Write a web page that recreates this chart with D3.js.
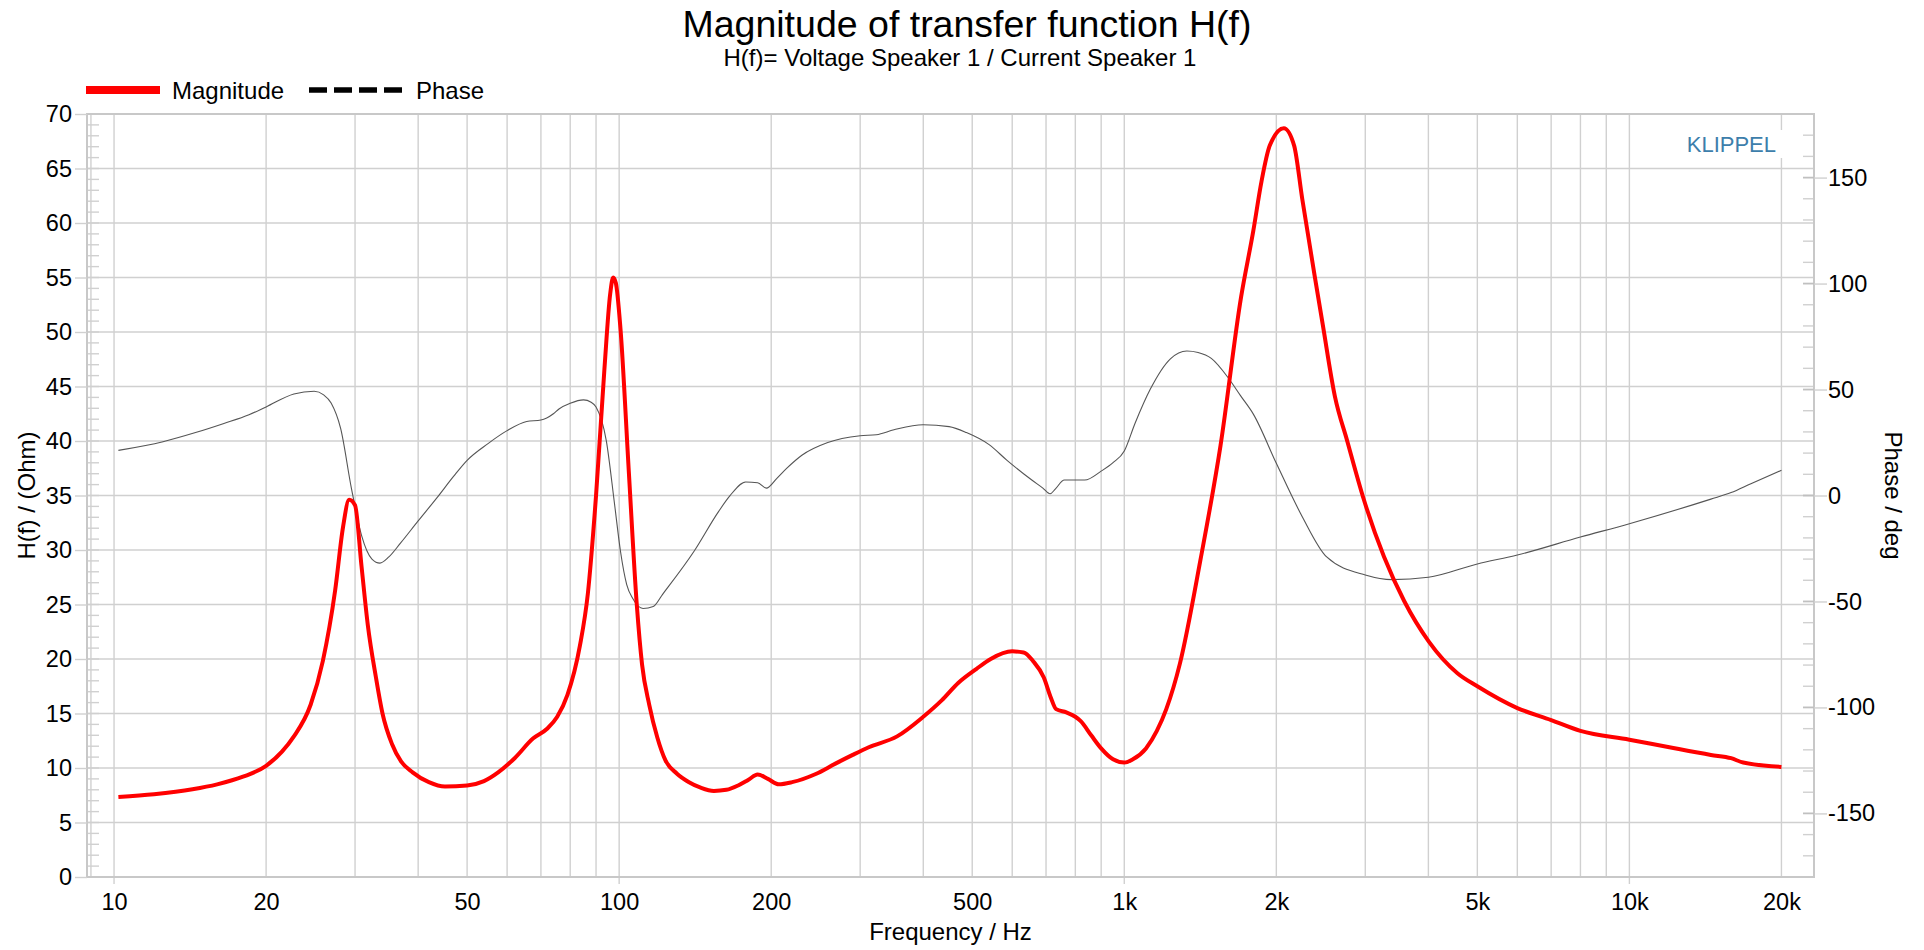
<!DOCTYPE html>
<html>
<head>
<meta charset="utf-8">
<script src="https://cdn.jsdelivr.net/npm/d3@7"></script>
<style>
  body { margin: 0; background: #fff; }
  svg { display: block; font-family: "Liberation Sans", Arial, sans-serif; }
</style>
</head>
<body>
<div id="chart"></div>
<script>
// magnitude |H(f)| in Ohm
var magFreq = [10.2, 12, 14.3, 16, 18, 20, 21.5, 22.7, 24.5, 25.9, 27.4, 28.4, 29.2, 30, 30.9, 31.8, 33, 34, 35.5, 37, 39, 42, 45.2, 50,
    54, 57.6, 62.1, 67.5, 72, 75.4, 79, 83.6, 86.7, 90, 93.5, 96, 97.3, 98.5, 100.6, 104.5, 108.4, 111, 114.7, 119, 123.5, 130,
    137.5, 145, 154, 163, 172, 180, 188, 197, 207, 220, 245, 268, 290, 312, 355, 400, 435, 469, 510, 544, 600, 632, 660, 693,
    715, 733, 768, 800, 820, 860, 900, 950, 1000, 1040, 1104, 1160, 1211, 1289, 1414, 1551, 1703, 1801, 1869, 1941, 2070, 2169,
    2251, 2381, 2471, 2612, 2763, 2977, 3266, 3584, 4008, 4566, 5000, 6000, 7000, 8000, 10000, 12000, 14500, 15900, 16800, 20000];
var magOhm = [7.35, 7.6, 8.05, 8.5, 9.2, 10.2, 11.5, 12.9, 15.8, 19.8, 26.3, 32.1, 34.6, 34.1, 28.5, 23.1, 18.3, 15, 12.2, 10.6, 9.6, 8.7, 8.3, 8.4,
    8.8, 9.6, 10.9, 12.7, 13.6, 14.7, 16.7, 21.2, 26, 35, 46.6, 53.5, 55, 54.5, 50.3, 37.2, 24.9, 19.5, 15.8, 12.8, 10.7, 9.5,
    8.7, 8.2, 7.9, 8, 8.4, 8.9, 9.4, 9, 8.5, 8.7, 9.45, 10.4, 11.2, 11.9, 12.9, 14.7, 16.2, 17.8, 19.1, 20, 20.7, 20.6, 19.8, 18.3,
    16.5, 15.4, 15.1, 14.7, 14.3, 13, 11.8, 10.8, 10.5, 10.8, 11.8, 13.4, 15.4, 19.6, 29, 39.6, 53.2, 59.3, 63.8, 67.1, 68.7, 67.1,
    62.2, 55.2, 50.7, 44.1, 40, 34.7, 29.4, 25.3, 21.6, 18.7, 17.5, 15.5, 14.4, 13.4, 12.6, 11.9, 11.2, 10.9, 10.5, 10.1];

// phase in degrees
var phaseFreq = [10.2, 12.5, 14.5, 16.5, 18.5, 20, 22.7, 24.9, 26, 26.9, 28.1, 29.5, 30.9, 32.4, 33.6, 35, 36.9, 40, 43.6, 47, 50, 55, 60,
    65.6, 70, 74.1, 76, 80, 85, 88, 90, 94.3, 97.9, 100.6, 103.5, 106.4, 111.5, 116.8, 122, 140.7, 157.3, 165.6, 178, 188,
    195.6, 205, 214.8, 230, 258.8, 300, 323, 350, 400, 450, 487, 540, 586, 656, 690, 713, 730, 761, 835, 900, 950, 1000, 1050, 1125,
    1234, 1330, 1400, 1487, 1611, 1700, 1801, 2000, 2251, 2516, 3000, 3388, 4000, 5000, 6000, 8000, 10000, 14500, 15900, 17400, 20000];
var phaseDeg = [21.3, 25.4, 29.7, 34, 38.1, 41.8, 47.9, 49.2, 47.5, 43.6, 31.5, 3.5, -18.8, -30, -31.9, -29, -22.5, -12, -1, 9, 16.6, 24.5, 30.6,
    34.9, 35.6, 38.6, 40.8, 43.5, 45.1, 44, 41.8, 25.9, -3.9, -26.3, -42, -48.6, -53.3, -52.4, -46.5, -26.3, -7.6, -0.2, 6.4, 6,
    3.5, 8, 12.9, 19, 25, 28.2, 28.7, 31, 33.4, 32.5, 29.7, 24, 16.6, 7.3, 3.5, 0.8, 3, 7.3, 7.3, 11.5, 15.5, 21, 34, 50,
    64.5, 68.2, 67.5, 64.7, 55.1, 47, 38.4, 15.2, -10, -29, -37.5, -39.7, -38.6, -32.3, -28.1, -19.6, -13.3, -1.7, 1.4, 5.6, 11.9];

// axis ticks
var freqTicks = [10, 20, 50, 100, 200, 500, 1000, 2000, 5000, 10000, 20000];
var freqTickLabels = ["10", "20", "50", "100", "200", "500", "1k", "2k", "5k", "10k", "20k"];
var ohmTicks = [0, 5, 10, 15, 20, 25, 30, 35, 40, 45, 50, 55, 60, 65, 70];
var phaseTicks = [-150, -100, -50, 0, 50, 100, 150];

var margin = { top: 114, right: 110, bottom: 73, left: 87 },
    width = 1924 - margin.left - margin.right,
    height = 950 - margin.top - margin.bottom;

var gridColor = "#d0d0d0";

// scales
var x = d3.scaleLog().domain([8.84, 23200]).range([0, width]);
var y = d3.scaleLinear().domain([0, 70]).range([height, 0]);
var yPhase = d3.scaleLinear().domain([-180, 180]).range([height, 0]);

var svg = d3.select("#chart").append("svg")
    .attr("width", 1924)
    .attr("height", 950);

svg.append("rect").attr("width", 1924).attr("height", 950).attr("fill", "#fff");

var chart = svg.append("g")
    .attr("transform", "translate(" + margin.left + "," + margin.top + ")");

// vertical grid (every 1..9 per decade)
chart.append("g").selectAll("line")
    .data(x.ticks())
    .enter().append("line")
    .attr("x1", function (d) { return x(d); })
    .attr("x2", function (d) { return x(d); })
    .attr("y1", 0)
    .attr("y2", height)
    .attr("stroke", gridColor)
    .attr("stroke-width", 1.4);

// horizontal grid
chart.append("g").selectAll("line")
    .data(ohmTicks)
    .enter().append("line")
    .attr("x1", 0)
    .attr("x2", width)
    .attr("y1", function (d) { return y(d); })
    .attr("y2", function (d) { return y(d); })
    .attr("stroke", gridColor)
    .attr("stroke-width", 1.4);

// minor ticks, left (1 Ohm) and right (10 deg)
chart.append("g").selectAll("line")
    .data(d3.range(0, 71, 1))
    .enter().append("line")
    .attr("x1", 0).attr("x2", 12)
    .attr("y1", function (d) { return y(d); })
    .attr("y2", function (d) { return y(d); })
    .attr("stroke", gridColor)
    .attr("stroke-width", 1.4);

chart.append("g").selectAll("line")
    .data(d3.range(-180, 181, 10))
    .enter().append("line")
    .attr("x1", width - 11).attr("x2", width)
    .attr("y1", function (d) { return yPhase(d); })
    .attr("y2", function (d) { return yPhase(d); })
    .attr("stroke", gridColor)
    .attr("stroke-width", 1.4);

// decade ticks below the x axis
chart.append("g").selectAll("line")
    .data([10, 100, 1000, 10000])
    .enter().append("line")
    .attr("x1", function (d) { return x(d); })
    .attr("x2", function (d) { return x(d); })
    .attr("y1", height)
    .attr("y2", height + 7)
    .attr("stroke", gridColor)
    .attr("stroke-width", 1.4);

// frame
chart.append("rect")
    .attr("width", width)
    .attr("height", height)
    .attr("fill", "none")
    .attr("stroke", "#c8c8c8")
    .attr("stroke-width", 2);

// KLIPPEL mark on a white patch
chart.append("rect")
    .attr("x", 1593).attr("y", 16)
    .attr("width", 104).attr("height", 28)
    .attr("fill", "#fff");
chart.append("text")
    .attr("x", 1689).attr("y", 38)
    .attr("text-anchor", "end")
    .style("font-size", "22px")
    .style("fill", "#3d7eab")
    .text("KLIPPEL");

// axes
function styleAxis(sel, size) {
    sel.select(".domain").remove();
    sel.selectAll("line").attr("stroke", gridColor).attr("stroke-width", 1.4);
    sel.selectAll("text")
        .style("font-size", size)
        .style("font-family", '"Liberation Sans", Arial, sans-serif')
        .style("fill", "#000");
}

chart.append("g")
    .attr("transform", "translate(0," + height + ")")
    .call(d3.axisBottom(x)
        .tickValues(freqTicks)
        .tickFormat(function (d, i) { return freqTickLabels[i]; })
        .tickSize(0)
        .tickPadding(16))
    .call(styleAxis, "23.5px");

chart.append("g")
    .call(d3.axisLeft(y)
        .tickValues(ohmTicks)
        .tickSize(12)
        .tickPadding(3))
    .call(styleAxis, "23.5px");

chart.append("g")
    .attr("transform", "translate(" + width + ",0)")
    .call(d3.axisRight(yPhase)
        .tickValues(phaseTicks)
        .tickFormat(function (d) { return String(d); })
        .tickSize(13)
        .tickPadding(1))
    .call(styleAxis, "23.5px");

// inner half of the major phase ticks
chart.append("g").selectAll("line")
    .data(phaseTicks)
    .enter().append("line")
    .attr("x1", width - 11).attr("x2", width)
    .attr("y1", function (d) { return yPhase(d); })
    .attr("y2", function (d) { return yPhase(d); })
    .attr("stroke", "#c0c0c0")
    .attr("stroke-width", 1.6);

// curves
chart.append("clipPath").attr("id", "clip")
    .append("rect").attr("width", width).attr("height", height);

var magData = magFreq.map(function (f, i) { return { f: f, v: magOhm[i] }; });
var phaseData = phaseFreq.map(function (f, i) { return { f: f, v: phaseDeg[i] }; });

var magLine = d3.line()
    .curve(d3.curveMonotoneX)
    .x(function (d) { return x(d.f); })
    .y(function (d) { return y(d.v); });

var phaseLine = d3.line()
    .curve(d3.curveMonotoneX)
    .x(function (d) { return x(d.f); })
    .y(function (d) { return yPhase(d.v); });

chart.append("path")
    .datum(phaseData)
    .attr("clip-path", "url(#clip)")
    .attr("fill", "none")
    .attr("stroke", "#555")
    .attr("stroke-width", 1.1)
    .attr("d", phaseLine);

chart.append("path")
    .datum(magData)
    .attr("clip-path", "url(#clip)")
    .attr("fill", "none")
    .attr("stroke", "#ff0000")
    .attr("stroke-width", 4)
    .attr("stroke-linejoin", "round")
    .attr("d", magLine);

// axis titles
svg.append("text")
    .attr("transform", "translate(35," + (margin.top + height / 2) + ") rotate(-90)")
    .attr("text-anchor", "middle")
    .style("font-size", "24px")
    .text("H(f) / (Ohm)");

svg.append("text")
    .attr("transform", "translate(1885," + (margin.top + height / 2) + ") rotate(90)")
    .attr("text-anchor", "middle")
    .style("font-size", "24px")
    .text("Phase / deg");

svg.append("text")
    .attr("x", margin.left + width / 2)
    .attr("y", 940)
    .attr("text-anchor", "middle")
    .style("font-size", "24px")
    .text("Frequency / Hz");

// titles
svg.append("text")
    .attr("x", 967).attr("y", 37)
    .attr("text-anchor", "middle")
    .style("font-size", "37.5px")
    .text("Magnitude of transfer function H(f)");

svg.append("text")
    .attr("x", 960).attr("y", 66)
    .attr("text-anchor", "middle")
    .style("font-size", "24px")
    .text("H(f)= Voltage Speaker 1 / Current Speaker 1");

// legend
var legend = svg.append("g");
legend.append("line")
    .attr("x1", 86).attr("x2", 160).attr("y1", 90).attr("y2", 90)
    .attr("stroke", "#ff0000").attr("stroke-width", 8);
legend.append("text")
    .attr("x", 172).attr("y", 98.5)
    .style("font-size", "24px")
    .text("Magnitude");
legend.append("line")
    .attr("x1", 309).attr("x2", 402).attr("y1", 90).attr("y2", 90)
    .attr("stroke", "#000").attr("stroke-width", 5.5)
    .attr("stroke-dasharray", "18,7");
legend.append("text")
    .attr("x", 416).attr("y", 98.5)
    .style("font-size", "24px")
    .text("Phase");
</script>
</body>
</html>
